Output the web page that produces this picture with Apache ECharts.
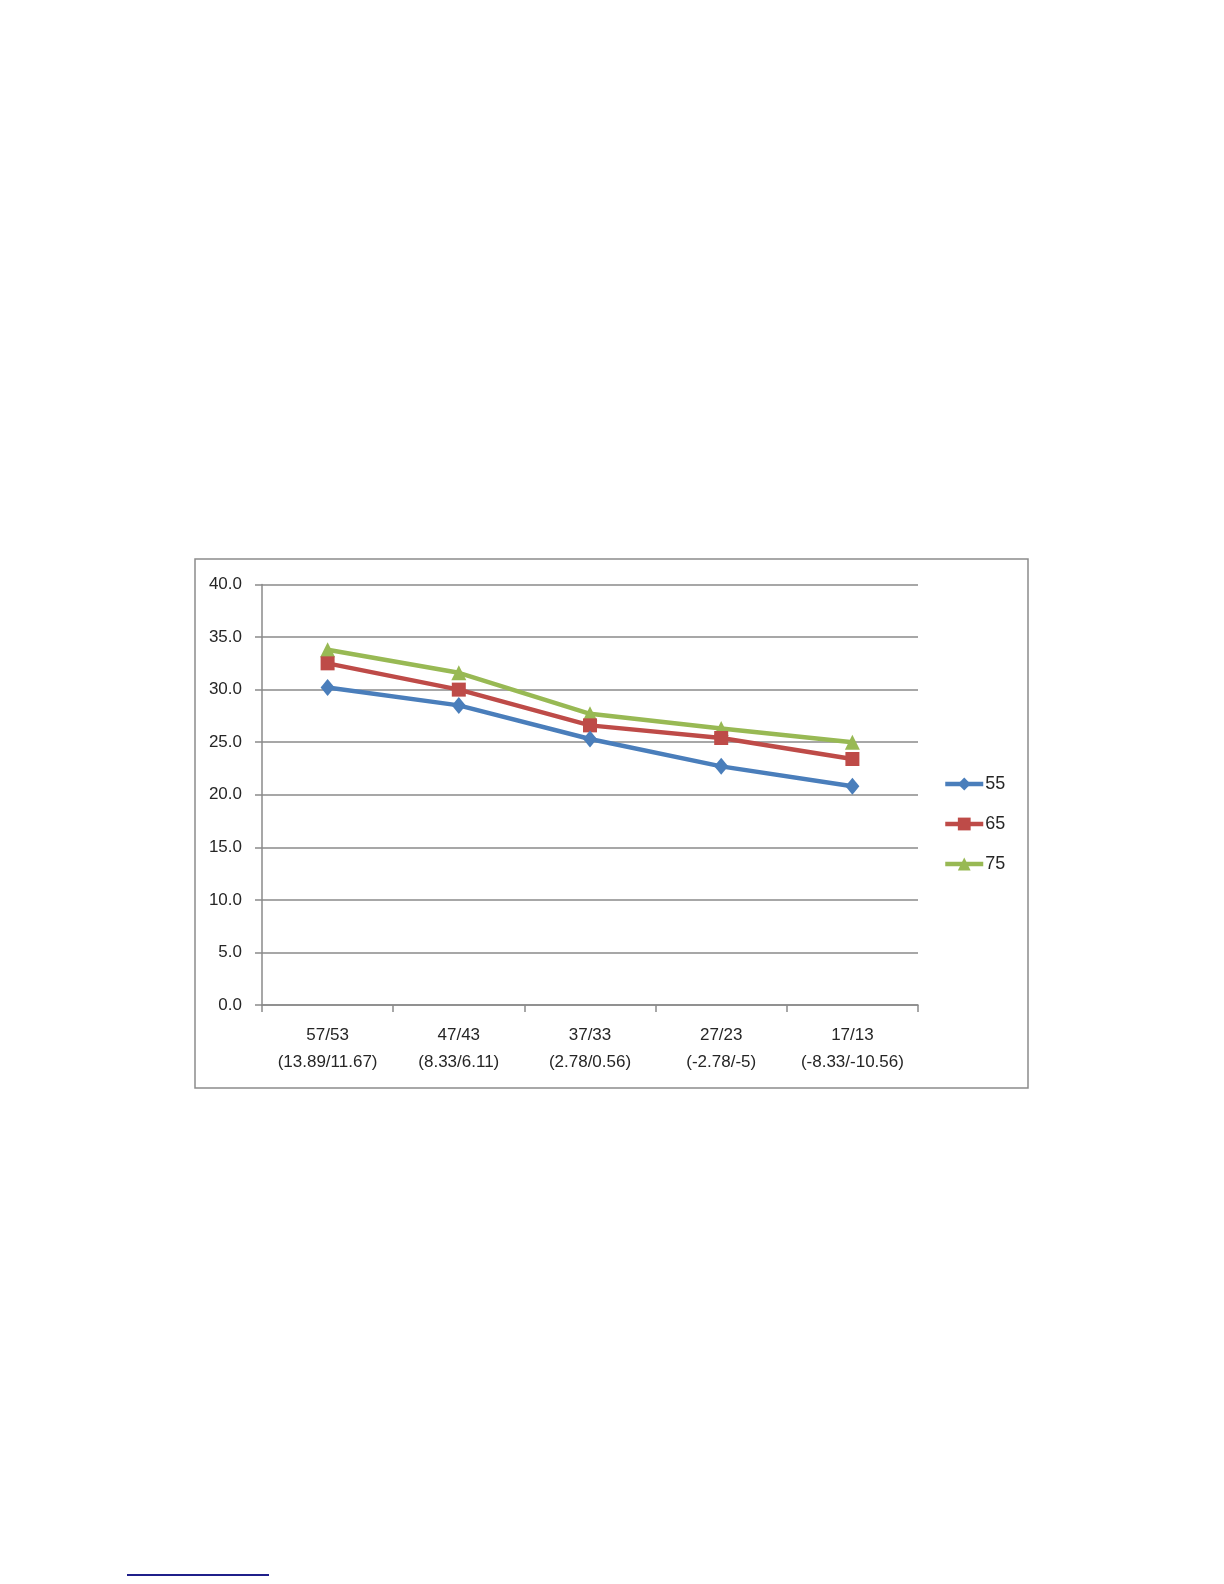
<!DOCTYPE html>
<html>
<head>
<meta charset="utf-8">
<script src="https://cdn.jsdelivr.net/npm/echarts@6/dist/echarts.min.js"></script>
<style>
html,body{margin:0;padding:0;background:#fff;}
#c{width:1224px;height:1584px;}
</style>
</head>
<body>
<div id="c"></div>
<script>
var categories = ['57/53\n(13.89/11.67)', '47/43\n(8.33/6.11)', '37/33\n(2.78/0.56)', '27/23\n(-2.78/-5)', '17/13\n(-8.33/-10.56)'];
var seriesNames = ['55', '65', '75'];
var s55 = [30.2, 28.5, 25.3, 22.7, 20.8];
var s65 = [32.5, 30.0, 26.6, 25.4, 23.4];
var s75 = [33.8, 31.6, 27.7, 26.3, 25.0];
var yTicks = {min: 0, max: 40, interval: 5};

var chart = echarts.init(document.getElementById('c'), null, {renderer: 'canvas'});
var font = '"Liberation Sans", Arial, sans-serif';
var gridColor = '#8a8a8a';
var textColor = '#262626';
var colors = ['#4a7ebb', '#be4b48', '#98b954'];
var symbols = ['diamond', 'rect', 'triangle'];
var sizes = [[14, 17], [14, 14], [15, 15]];
var data = [s55, s65, s75];

chart.setOption({
  animation: false,
  backgroundColor: '#fff',
  color: colors,
  textStyle: {fontFamily: font},
  grid: {left: 262, right: 306, top: 584.5, bottom: 579, containLabel: false},
  legend: {
    orient: 'vertical',
    left: 938,
    top: 770,
    itemWidth: 38,
    itemHeight: 16,
    itemGap: 22,
    data: seriesNames,
    lineStyle: {width: 4.5},
    textStyle: {fontSize: 18, color: textColor, fontFamily: font, padding: [0, 0, 0, -3]}
  },
  xAxis: {
    type: 'category',
    data: categories,
    boundaryGap: true,
    axisLine: {show: true, lineStyle: {color: gridColor, width: 1.5}},
    axisTick: {show: true, interval: 0, length: 7, lineStyle: {color: gridColor, width: 1.5}},
    axisLabel: {interval: 0, fontSize: 17, color: textColor, fontFamily: font, lineHeight: 27, margin: 17}
  },
  yAxis: {
    type: 'value',
    min: yTicks.min,
    max: yTicks.max,
    interval: yTicks.interval,
    axisLine: {show: true, lineStyle: {color: gridColor, width: 1.5}},
    axisTick: {show: true, length: 7, lineStyle: {color: gridColor, width: 1.5}},
    splitLine: {show: true, lineStyle: {color: gridColor, width: 1.5}},
    axisLabel: {fontSize: 17, color: textColor, fontFamily: font, margin: 20,
      formatter: function (v) { return v.toFixed(1); }}
  },
  series: seriesNames.map(function (n, i) {
    return {
      name: n,
      type: 'line',
      data: data[i],
      symbol: symbols[i],
      symbolSize: sizes[i],
      showAllSymbol: true,
      lineStyle: {width: 4.5, color: colors[i]},
      itemStyle: {color: colors[i]},
      z: 2 + (2 - i)
    };
  }),
  graphic: [
    {type: 'rect', shape: {x: 195, y: 559, width: 833, height: 529},
     style: {fill: 'none', stroke: '#8c8c8c', lineWidth: 1.5}, silent: true, z: -1},
    {type: 'line', shape: {x1: 127, y1: 1575, x2: 269, y2: 1575},
     style: {stroke: '#1f1f8a', lineWidth: 2}, silent: true}
  ]
});
</script>
</body>
</html>
